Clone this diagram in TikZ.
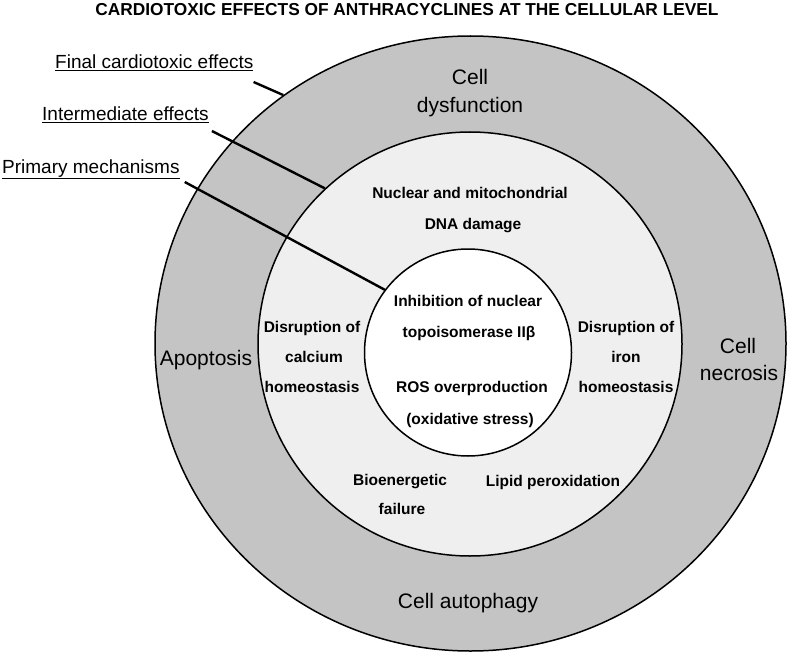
\documentclass[tikz,border=0pt]{standalone}
\usepackage{fontspec}
\setmainfont{Liberation Sans}
\usetikzlibrary{shapes.geometric}
\definecolor{ringA}{HTML}{B8B8B8}
\definecolor{ringAL}{HTML}{C4C4C4}
\definecolor{ringAD}{HTML}{A2A2A2}
\definecolor{ringB}{HTML}{E6E6E6}
\definecolor{ringBL}{HTML}{EFEFEF}
\definecolor{ringBD}{HTML}{DADADA}
\pgfdeclareradialshading{outershade}{\pgfpoint{0bp}{0bp}}{color(0bp)=(ringAL); color(34bp)=(ringAL); color(44bp)=(ringA); color(50bp)=(ringAD); color(60bp)=(ringAD)}
\pgfdeclareradialshading{midshade}{\pgfpoint{0bp}{0bp}}{color(0bp)=(ringBL); color(25bp)=(ringBL); color(44bp)=(ringB); color(50bp)=(ringBD); color(60bp)=(ringBD)}
\begin{document}
\begin{tikzpicture}[x=1pt,y=-1pt,
  lbl/.style={font=\fontsize{19}{22}\selectfont, anchor=base west, inner sep=0pt},
  otx/.style={font=\fontsize{21}{25}\selectfont, anchor=base, inner sep=0pt},
  itx/.style={font=\bfseries\fontsize{15.5}{18}\selectfont, anchor=base, inner sep=0pt},
  ttl/.style={font=\bfseries\fontsize{17.3}{20}\selectfont, anchor=base, inner sep=0pt},
  ring/.style={draw=black, line width=1.5pt, inner sep=0pt},
  leader/.style={line width=2.4pt}]
\useasboundingbox (0,0) rectangle (792,666);
% rings
\node[ellipse, ring, shading=outershade, minimum width=631pt, minimum height=615pt] (outer) at (470.5,343.5) {};
\node[circle, ring, shading=midshade, minimum size=424pt] (middle) at (470,344) {};
\node[circle, ring, fill=white, minimum size=207pt] (inner) at (468,352.5) {};
% title
\node[ttl] (title) at (407,16) {CARDIOTOXIC EFFECTS OF ANTHRACYCLINES AT THE CELLULAR LEVEL};
% left labels
\node[lbl] (finalLbl) at (55,69) {\underline{Final cardiotoxic effects}};
\node[lbl] (interLbl) at (42,121) {\underline{Intermediate effects}};
\node[lbl] (primLbl) at (2,173) {\underline{Primary mechanisms}};
\draw[leader] ([yshift=-13pt]finalLbl.base east) -- (outer.127);
\draw[leader] ([xshift=3pt,yshift=-10pt]interLbl.base east) -- (middle.133.5);
\draw[leader] ([xshift=5pt,yshift=-9pt]primLbl.base east) -- (inner.143.3);
% outer ring texts
\node[otx] (dys1) at (470,85) {Cell};
\node[otx] (dys2) at (470,113) {dysfunction};
\node[otx] (apop) at (206,365) {Apoptosis};
\node[otx] (nec1) at (738,353) {Cell};
\node[otx] (nec2) at (739,380) {necrosis};
\node[otx] (auto) at (468,608) {Cell autophagy};
% middle ring texts
\node[itx] (dna1) at (470,198) {Nuclear and mitochondrial};
\node[itx] (dna2) at (473,229) {DNA damage};
\node[itx] (ca1) at (312,332) {Disruption of};
\node[itx] (ca2) at (314,362) {calcium};
\node[itx] (ca3) at (312,392) {homeostasis};
\node[itx] (fe1) at (626,332) {Disruption of};
\node[itx] (fe2) at (626,362) {iron};
\node[itx] (fe3) at (626,392) {homeostasis};
\node[itx] (bio1) at (400,485) {Bioenergetic};
\node[itx] (bio2) at (402,514) {failure};
\node[itx] (lip) at (553,486) {Lipid peroxidation};
% inner texts
\node[itx] (top1) at (468,306) {Inhibition of nuclear};
\node[itx] (top2) at (469,337) {topoisomerase IIβ};
\node[itx] (ros1) at (472,392) {ROS overproduction};
\node[itx] (ros2) at (470,424) {(oxidative stress)};
\end{tikzpicture}
\end{document}
